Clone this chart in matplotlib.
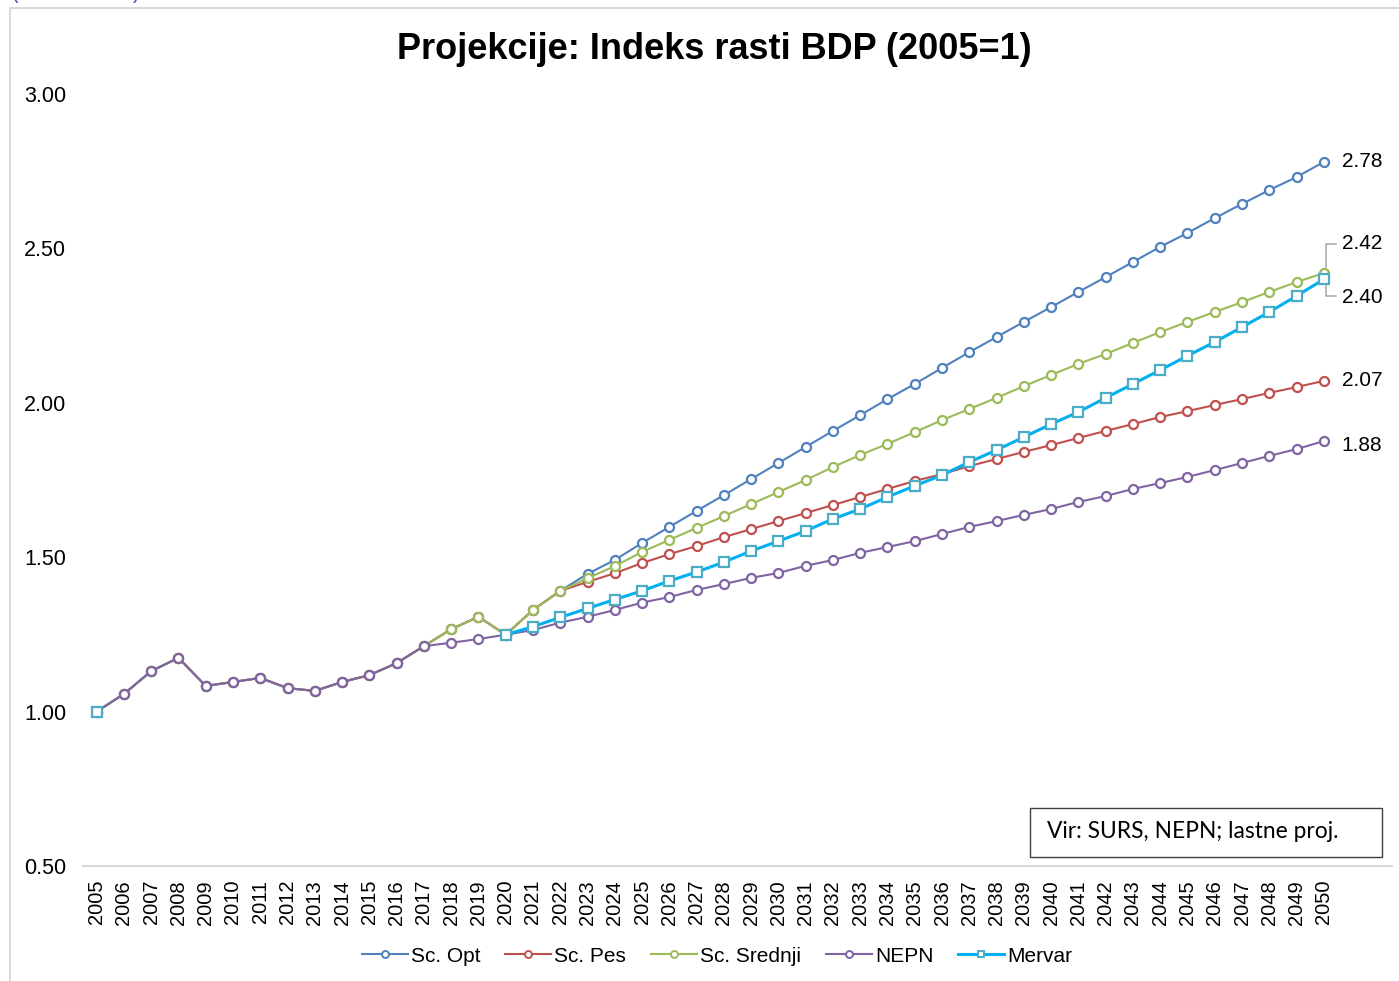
import numpy as np
import matplotlib
matplotlib.use("Agg")
import matplotlib.pyplot as plt
from matplotlib.lines import Line2D
from matplotlib.patches import Rectangle

plt.rcParams["font.family"] = ["Liberation Sans", "DejaVu Sans"]

years = list(range(2005, 2051))

# common history 2005-2017
hist = [1.000, 1.057, 1.131, 1.174, 1.083, 1.096, 1.109, 1.076, 1.067, 1.096,
        1.118, 1.157, 1.212]
# scenarios share 2018-2022
scen_hist = [1.267, 1.307, 1.249, 1.329, 1.391]

opt = hist + scen_hist + [
    1.446, 1.491, 1.546, 1.598, 1.650, 1.701, 1.753, 1.805, 1.857, 1.909,
    1.960, 2.012, 2.061, 2.113, 2.164, 2.213, 2.262, 2.310, 2.359, 2.407,
    2.456, 2.505, 2.550, 2.598, 2.644, 2.689, 2.731, 2.780]
pes = hist + scen_hist + [
    1.420, 1.448, 1.481, 1.510, 1.536, 1.565, 1.591, 1.617, 1.643, 1.669,
    1.695, 1.721, 1.747, 1.769, 1.795, 1.818, 1.841, 1.863, 1.886, 1.909,
    1.931, 1.954, 1.973, 1.993, 2.012, 2.032, 2.051, 2.071]
sred = hist + scen_hist + [
    1.432, 1.471, 1.517, 1.556, 1.595, 1.633, 1.672, 1.711, 1.750, 1.792,
    1.831, 1.867, 1.905, 1.944, 1.980, 2.016, 2.054, 2.090, 2.126, 2.158,
    2.194, 2.229, 2.262, 2.294, 2.326, 2.359, 2.391, 2.420]
nepn = hist + [
    1.223, 1.235, 1.249, 1.264, 1.288, 1.307, 1.329, 1.353, 1.371, 1.394,
    1.413, 1.433, 1.449, 1.472, 1.491, 1.514, 1.533, 1.552, 1.575, 1.598,
    1.617, 1.637, 1.656, 1.679, 1.698, 1.721, 1.740, 1.760, 1.782, 1.805,
    1.828, 1.850, 1.876]
mervar = [1.000] + [np.nan] * 14 + [
    1.249, 1.275, 1.305, 1.334, 1.363, 1.391, 1.423, 1.452, 1.484, 1.520,
    1.552, 1.585, 1.624, 1.656, 1.695, 1.731, 1.766, 1.808, 1.847, 1.889,
    1.931, 1.970, 2.016, 2.061, 2.106, 2.152, 2.197, 2.245, 2.294, 2.346,
    2.400]

series = [
    ("Sc. Opt", opt, "#4F81BD", "#4F81BD", "o", 1.5),
    ("Sc. Pes", pes, "#C0504D", "#C0504D", "o", 1.5),
    ("Sc. Srednji", sred, "#9BBB59", "#9BBB59", "o", 1.5),
    ("NEPN", nepn, "#8064A2", "#8064A2", "o", 1.5),
    ("Mervar", mervar, "#00B0F0", "#4BACC6", "s", 2.2),
]

fig = plt.figure(figsize=(13.99, 9.81), dpi=100)
ax = fig.add_axes([83 / 1399, 1 - 866 / 981, (1392 - 83) / 1399, (866 - 94) / 981])

handles = []
for name, vals, lc, mc, mk, lw in series:
    ax.plot(years, vals, color=lc, lw=lw, marker=mk, markersize=6.5 if mk == "o" else 6.8,
            markerfacecolor="white", markeredgecolor=mc, markeredgewidth=1.6, zorder=3)
    handles.append(Line2D([], [], color=lc, lw=lw, marker=mk, markersize=5,
                          markerfacecolor="white", markeredgecolor=mc, markeredgewidth=1.4,
                          label=name))

ax.set_xlim(2004.5, 2052.5)
ax.set_ylim(0.5, 3.0)
ax.set_xticks(years)
ax.set_xticklabels([str(y) for y in years], rotation=90, fontsize=14.5)
ax.set_yticks(np.arange(0.5, 3.01, 0.5))
ax.set_yticklabels([f"{v:.2f}" for v in np.arange(0.5, 3.01, 0.5)], fontsize=15.5)
ax.tick_params(axis="both", length=0)
ax.tick_params(axis="x", pad=10)
ax.tick_params(axis="y", pad=12)
for s in ["top", "right", "left"]:
    ax.spines[s].set_visible(False)
ax.spines["bottom"].set_color("#D9D9D9")
ax.spines["bottom"].set_linewidth(1.5)

# end-point labels
px = 1 / 308.8  # data units per pixel (y)
end_vals = {"opt": opt[-1], "sred": sred[-1], "mervar": mervar[-1], "pes": pes[-1], "nepn": nepn[-1]}
shift = {"opt": 0, "sred": 30, "mervar": -18, "pes": 0, "nepn": -4}
for key, v in end_vals.items():
    ax.text(2050.65, v + shift[key] * px, f"{v:.2f}", fontsize=15, va="center", ha="left")
# leader lines for the two overlapping labels
v = end_vals["sred"]
ax.plot([2050.07, 2050.07, 2050.43], [v + 6 * px, v + 29 * px, v + 29 * px], color="#A6A6A6", lw=1.1)
v = end_vals["mervar"]
ax.plot([2050.07, 2050.07, 2050.43], [v - 6 * px, v - 17 * px, v - 17 * px], color="#A6A6A6", lw=1.1)

fig.text(714 / 1399, 1 - 50 / 981, "Projekcije: Indeks rasti BDP (2005=1)", fontsize=26,
         fontweight="bold", ha="center", va="center")

fig.legend(handles=handles, loc="center", bbox_to_anchor=(717 / 1399, 1 - 956 / 981), ncol=5,
           frameon=False, fontsize=15, handlelength=2.2, handletextpad=0.15, columnspacing=1.2)

# source box
fig.patches.append(Rectangle((1030 / 1399, 1 - 857 / 981), 352 / 1399, 49 / 981,
                             transform=fig.transFigure, fill=False, edgecolor="#404040", lw=1.0))
fig.text(1047 / 1399, 1 - 832 / 981, "Vir: SURS, NEPN; lastne proj.", fontsize=16.4,
         family="Lato", ha="left", va="center")

# outer chart border (cropped)
fig.patches.append(Rectangle((10 / 1399, -0.02), 1.05, 1 - 8 / 981 + 0.02,
                             transform=fig.transFigure, fill=False, edgecolor="#D9D9D9", lw=1.5))
fig.text(12 / 1399, 1 + 1 / 981, "(", color="#7030A0", fontsize=14, va="baseline")
fig.text(133 / 1399, 1 + 1 / 981, ")", color="#7030A0", fontsize=14, va="baseline")

fig.savefig("out.png", dpi=100)
